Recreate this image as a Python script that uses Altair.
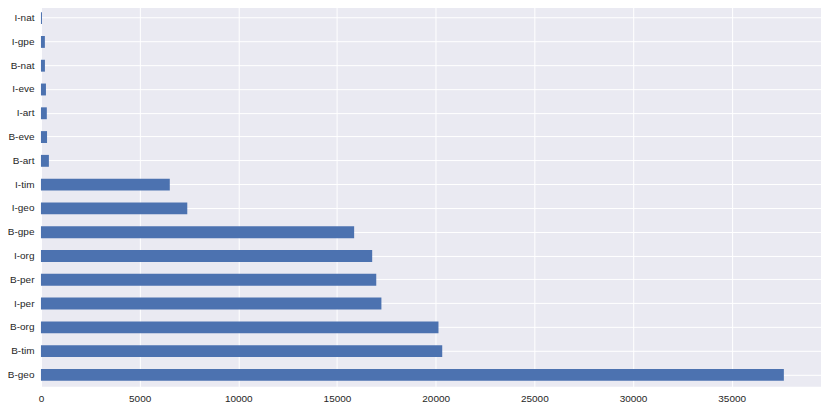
import altair as alt
import pandas as pd

tags = ["B-geo", "B-tim", "B-org", "I-per", "B-per", "I-org", "B-gpe", "I-geo",
        "I-tim", "B-art", "B-eve", "I-art", "I-eve", "B-nat", "I-gpe", "I-nat"]
counts = [37644, 20333, 20143, 17251, 16990, 16784, 15870, 7414,
          6528, 402, 308, 297, 253, 201, 198, 51]

df = pd.DataFrame({"tag": tags, "count": counts})
order_top_to_bottom = list(reversed(tags))

chart = alt.Chart(df).mark_bar(color="#4C72B0").encode(
    x=alt.X("count:Q", title=None,
            scale=alt.Scale(domain=[0, 37644 * 1.05], nice=False, zero=True),
            axis=alt.Axis(values=[0, 5000, 10000, 15000, 20000, 25000, 30000, 35000],
                          format="d", labelFlush=False)),
    y=alt.Y("tag:N", title=None, sort=order_top_to_bottom,
            scale=alt.Scale(paddingInner=0.5, paddingOuter=0.25),
            axis=alt.Axis(grid=True)),
).properties(
    width=781, height=381,
    autosize=alt.AutoSizeParams(type="none"),
    padding={"left": 33, "top": -2, "right": 0, "bottom": 22},
    background="white",
).configure_view(
    fill="#EAEAF2", stroke=None
).configure_axis(
    domain=False, ticks=False, gridColor="white", gridWidth=1, gridOpacity=1,
    labelFont="Liberation Sans", labelFontSize=10, labelColor="#262626",
    labelPadding=7,
)

chart.save("out.html", embed_options={"renderer": "svg", "actions": False})
